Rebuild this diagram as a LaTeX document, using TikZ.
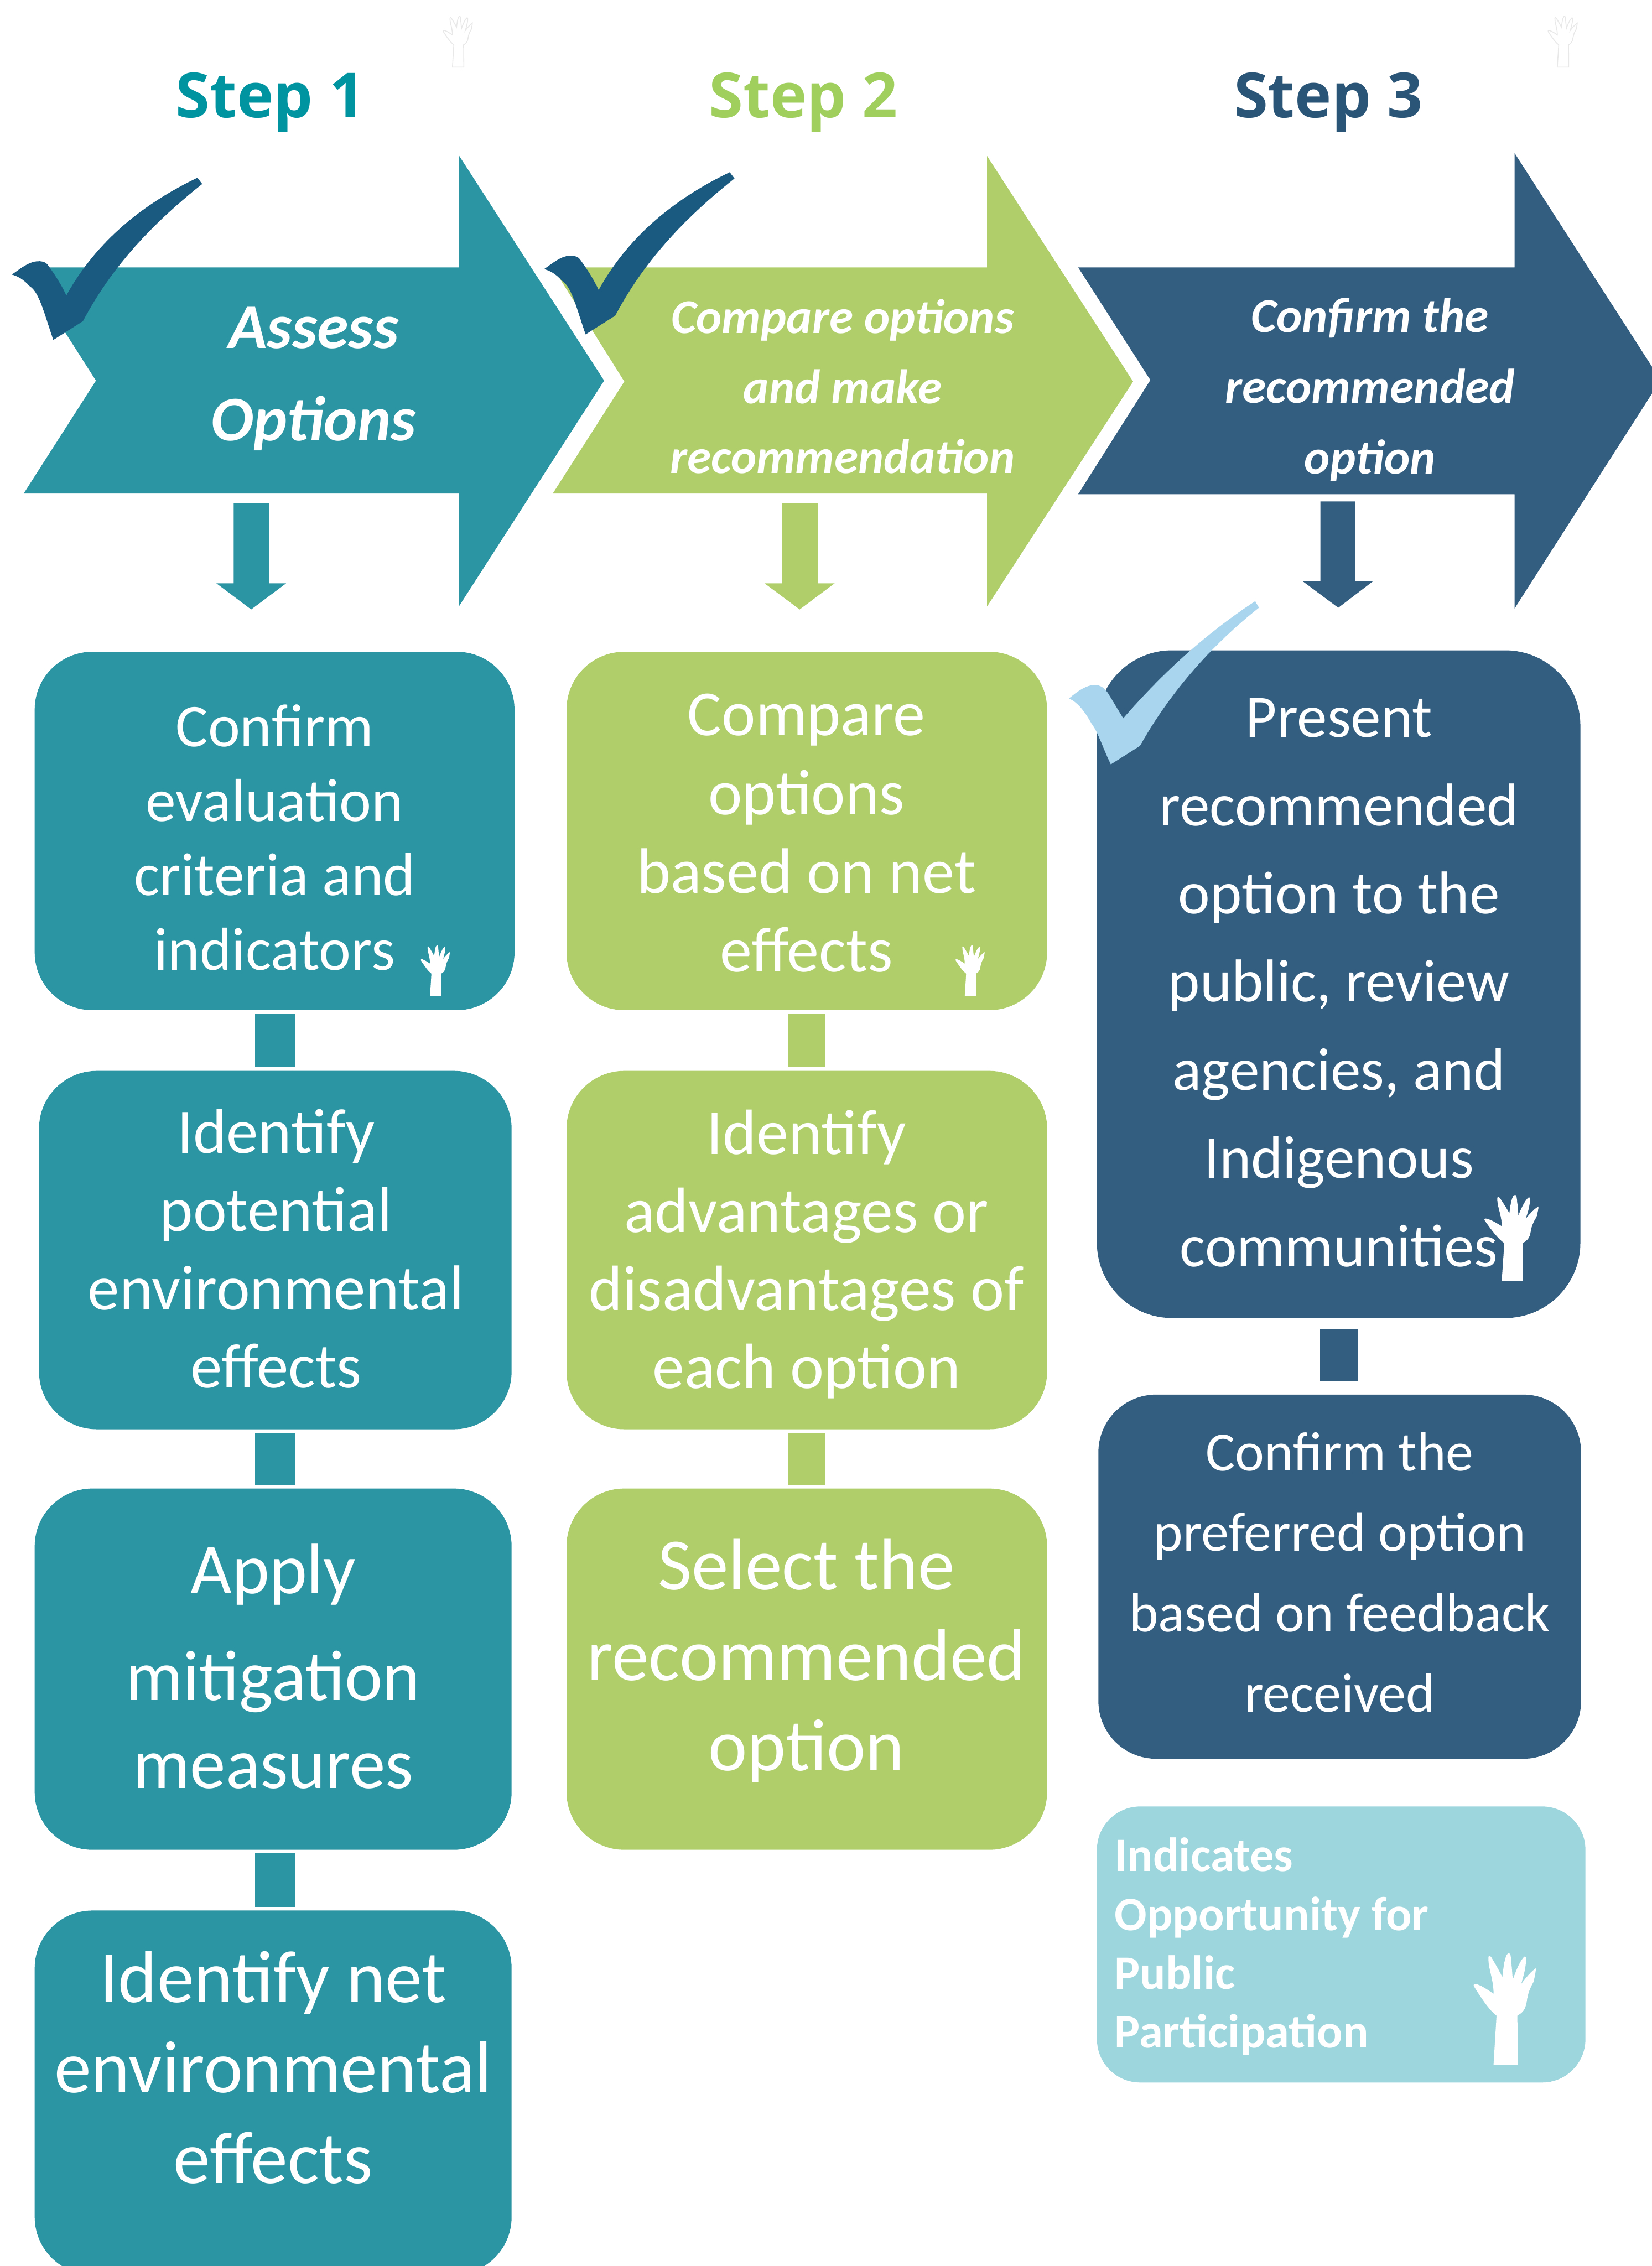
\documentclass[tikz,border=0pt]{standalone}
\usepackage{fontspec}
\setmainfont{Carlito}
\newfontfamily\stepfont{Open Sans}
\definecolor{teal1}{HTML}{2B95A3}
\definecolor{green1}{HTML}{B0CF6B}
\definecolor{navy1}{HTML}{335E80}
\definecolor{legend1}{HTML}{9DD6DD}
\definecolor{steptwo}{HTML}{A0CF5E}
\definecolor{stepone}{HTML}{0093A0}
\definecolor{stepthree}{HTML}{2A5577}
\definecolor{checkdark}{HTML}{1A5A80}
\definecolor{checklight}{HTML}{A9D6EE}
\tikzset{
 rbox/.style={rectangle,inner sep=0pt,outer sep=0pt,draw=none},
 txt/.style={text=white,align=center,inner sep=0pt},
 conn/.style={line width=#1,shorten <=2.5pt,shorten >=2.5pt},
 conn/.default=28pt,
 handicon/.pic={
  \path[pic actions] (87,468) -- (100,262) .. controls (70,240) and (35,190) .. (3,140)
   .. controls (-3,130) and (5,126) .. (15,130) .. controls (45,140) and (70,160) .. (87,170)
   .. controls (88,110) and (62,60) .. (65,15) .. controls (67,8) and (72,10) .. (78,18)
   .. controls (95,45) and (115,80) .. (125,100) .. controls (130,60) and (135,15) .. (148,2)
   .. controls (155,-2) and (160,2) .. (161,10) .. controls (165,50) and (168,80) .. (170,112)
   .. controls (185,70) and (205,25) .. (222,13) .. controls (228,12) and (229,18) .. (228,28)
   .. controls (225,70) and (215,100) .. (206,130) .. controls (225,105) and (250,75) .. (270,63)
   .. controls (270,75) and (265,100) .. (260,120) .. controls (245,145) and (235,170) .. (231,200)
   .. controls (225,240) and (210,250) .. (190,262) -- (192,468) -- cycle;
 }
}
\newcommand\rrect[7]{\node[rbox,fill=#7,rounded corners=#6pt,minimum width={(#4-#2)*1pt},minimum height={(#5-#3)*1pt}] (#1) at ({(#2+#4)/2},{(#3+#5)/2}) {};}
\begin{document}
\begin{tikzpicture}[x=1pt,y=-1pt]
\useasboundingbox (0,0) rectangle (1143,1568);
\clip (0,0) rectangle (1143,1568);
% faint hands
\pic[scale=0.0752,draw=black!9,fill=white,line width=0.6pt] at (306.5,11.3) {handicon};
\pic[scale=0.0752,draw=black!9,fill=white,line width=0.6pt] at (1071,11.3) {handicon};
% step titles
\node[font=\fontsize{43}{50}\selectfont\stepfont\bfseries,text=stepone,inner sep=0pt] (s1) at (187,71) {Step 1};
\node[font=\fontsize{43}{50}\selectfont\stepfont\bfseries,text=steptwo,inner sep=0pt] (s2) at (556,71) {Step 2};
\node[font=\fontsize{43}{50}\selectfont\stepfont\bfseries,text=stepthree,inner sep=0pt] (s3) at (919,71) {Step 3};
% big arrows
\fill[teal1] (317.5,107.5) -- (418,263.4) -- (317.5,419.6) -- (317.5,341.5) -- (16.4,341.5) -- (66.4,263.4) -- (16.4,185) -- (317.5,185) -- cycle;
\fill[green1] (683,108) -- (784,264) -- (683,419.6) -- (683,341.5) -- (382.5,341.5) -- (432,264) -- (382.5,185) -- (683,185) -- cycle;
\fill[navy1] (1048,106) -- (1149,263) -- (1048,421) -- (1048,342) -- (746,342) -- (796,263) -- (746,185) -- (1048,185) -- cycle;
\node[txt,font=\fontsize{44}{64}\selectfont\bfseries\itshape] (a1) at (217,262) {Assess\\Options};
\node[txt,font=\fontsize{33.6}{48.5}\selectfont\bfseries\itshape] (a2) at (583,267.5) {Compare options\\and make\\recommendation};
\node[txt,font=\fontsize{33.7}{49}\selectfont\bfseries\itshape] (a3) at (948,269.5) {Confirm the\\recommended\\option};
% down arrows
\fill[teal1] (161.7,348.4) -- (186,348.4) -- (186,403.6) -- (198,403.6) -- (173.8,421.7) -- (149.7,403.6) -- (161.7,403.6) -- cycle;
\fill[green1] (541,348.4) -- (566,348.4) -- (566,403.6) -- (577.5,403.6) -- (553.3,421.7) -- (529,403.6) -- (541,403.6) -- cycle;
\fill[navy1] (913.6,347) -- (937.6,347) -- (937.6,402.2) -- (950,402.2) -- (926,420.5) -- (901.4,402.2) -- (913.6,402.2) -- cycle;
% boxes
\rrect{b11}{24}{451}{356}{699}{40}{teal1}
\rrect{b12}{27}{741}{354}{989}{40}{teal1}
\rrect{b13}{24}{1030}{354}{1280}{40}{teal1}
\rrect{b14}{24}{1322}{354}{1574}{40}{teal1}
\rrect{b21}{392}{451}{724.5}{699}{40}{green1}
\rrect{b22}{392}{741}{724.5}{989}{40}{green1}
\rrect{b23}{392}{1030}{724.5}{1280}{40}{green1}
\rrect{b31}{759}{450}{1093.5}{912}{52}{navy1}
\rrect{b32}{760}{965}{1094}{1217}{40}{navy1}
\rrect{leg}{759}{1250}{1097}{1441}{30}{legend1}
% connectors
\draw[teal1,conn] (b11.south -| b12.north) -- (b12.north);
\draw[teal1,conn] (b12.south) -- (b12.south |- b13.north);
\draw[teal1,conn] (b12.south |- b13.south) -- (b12.south |- b14.north);
\draw[green1,conn=26pt] (b21.south) -- (b22.north);
\draw[green1,conn=26pt] (b22.south) -- (b23.north);
\draw[navy1,conn=26pt,shorten <=8pt,shorten >=9pt] (b31.south) -- (b31.south |- b32.north);
% box text
\node[txt,font=\fontsize{42}{51.5}\selectfont] (t11) at (190,579.5) {Confirm\\evaluation\\criteria and\\indicators};
\node[txt,font=\fontsize{44}{54}\selectfont] (t12) at (191,864) {Identify\\potential\\environmental\\effects};
\node[txt,font=\fontsize{49.5}{61}\selectfont] (t13) at (189,1153) {Apply\\[13pt]mitigation\\measures};
\node[txt,font=\fontsize{51.2}{62.5}\selectfont] (t14) at (189,1430.5) {Identify net\\environmental\\effects};
\node[txt,font=\fontsize{44.5}{54.5}\selectfont] (t21) at (558,576.5) {Compare\\options\\based on net\\effects};
\node[txt,font=\fontsize{44.3}{54}\selectfont] (t22) at (558,868) {Identify\\advantages or\\disadvantages of\\each option};
\node[txt,font=\fontsize{51}{62.5}\selectfont] (t23) at (558,1149) {Select the\\recommended\\option};
\node[txt,font=\fontsize{41.8}{61}\selectfont] (t31) at (926.5,680) {Present\\recommended\\option to the\\public, review\\agencies, and\\Indigenous\\communities};
\node[txt,font=\fontsize{38.3}{55.7}\selectfont] (t32) at (927,1088) {Confirm the\\preferred option\\based on feedback\\received};
\node[txt,align=left,anchor=west,font=\fontsize{33.2}{40.7}\selectfont\bfseries] (t4) at (771,1347) {Indicates\\Opportunity for\\Public\\Participation};
% hands
\pic[scale=0.0752,fill=white] at (291,654) {handicon};
\pic[scale=0.0752,fill=white] at (661,654) {handicon};
\pic[xscale=0.139,yscale=0.1275,fill=white] at (1027,826.8) {handicon};
\pic[xscale=0.16,yscale=0.1647,fill=white] at (1019.5,1351.6) {handicon};
% checks
\fill[checkdark] (8.2,190) .. controls (14,186) and (20,181) .. (26,180.8) .. controls (30,180.5) and (32,182) .. (32.8,183) .. controls (38,190) and (43,198) .. (45.9,204.5) .. controls (65,170) and (95,143) .. (136.6,123) -- (139.9,127.3) .. controls (105,155) and (77,185) .. (57.4,222.2) -- (36.9,235.2) .. controls (30,215) and (27,202) .. (20.5,198) .. controls (16,193) and (12,191) .. (8.2,190) -- cycle;
\fill[checkdark] (376.5,186.2) .. controls (382.3,182.2) and (388.3,177) .. (394.3,177) .. controls (398.3,176.7) and (400.3,178.2) .. (401.1,179.2) .. controls (406.3,186.2) and (411.3,194.2) .. (414.2,200.7) .. controls (433.3,166.2) and (463.3,139.2) .. (504.9,119.2) -- (508.2,123.5) .. controls (473.3,151.2) and (445.3,181.2) .. (425.7,218.4) -- (405.2,231.4) .. controls (398.3,211.2) and (395.3,198.2) .. (388.8,194.2) .. controls (384.3,189.2) and (380.3,187.2) .. (376.5,186.2) -- cycle;
\fill[checklight] (739.6,483.3) .. controls (745,479) and (751,474) .. (757.7,474) .. controls (762,474) and (765,477) .. (766.8,479.9) -- (777.2,497.1) .. controls (805,465) and (835,438) .. (868.5,416) -- (871.1,420.5) .. controls (840,445) and (810,478) .. (788.8,516.1) -- (768.6,528.9) .. controls (762,515) and (760,507) .. (755.2,500.6) .. controls (751,493) and (746,486) .. (739.6,483.3) -- cycle;
\end{tikzpicture}
\end{document}
